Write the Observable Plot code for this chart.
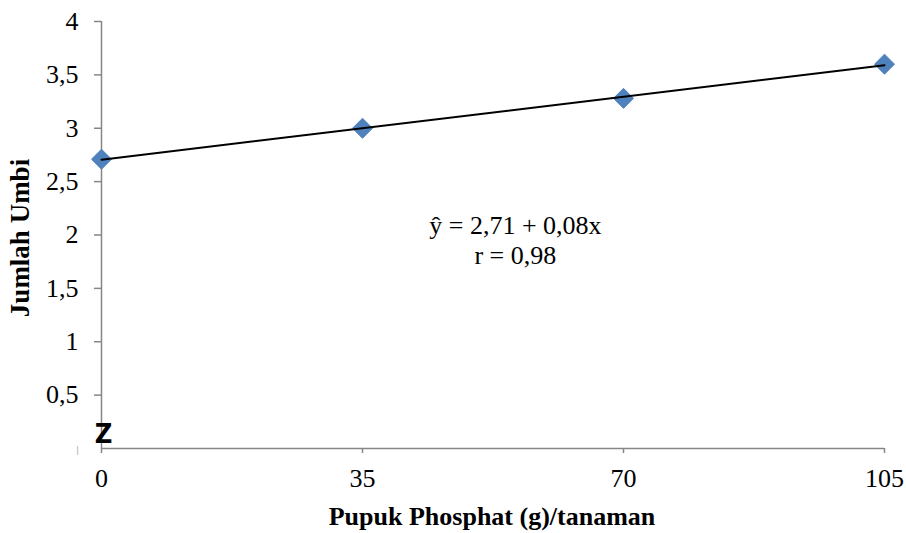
<!DOCTYPE html>
<html>
<head>
<meta charset="utf-8">
<script src="https://cdn.jsdelivr.net/npm/d3@7"></script>
<script src="https://cdn.jsdelivr.net/npm/@observablehq/plot@0.6"></script>
<style>
  html, body { margin: 0; padding: 0; background: #fff; }
  #chart { width: 906px; height: 533px; }
</style>
</head>
<body>
<div id="chart"></div>
<script>
// Data
const doses = [0, 35, 70, 105];           // Pupuk Phosphat (g)/tanaman
const umbi = [2.71, 3.00, 3.28, 3.60];     // Jumlah Umbi
const yTicks = [0.5, 1, 1.5, 2, 2.5, 3, 3.5, 4];
const xTicks = [0, 35, 70, 105];
const equationLines = ["ŷ = 2,71 + 0,08x", "r = 0,98"];
const equationPos = [{x: 55.5, y: 1.96}];
const breakMark = [{x: 0, y: 0, label: "Z"}];

const data = doses.map((d, i) => ({x: d, y: umbi[i]}));
const fmt = d => String(d).replace(".", ",");
const axisColor = "#868686";
const serif = "Liberation Serif";

const chart = Plot.plot({
  width: 906,
  height: 533,
  marginLeft: 101,
  marginRight: 22,
  marginTop: 21,
  marginBottom: 85,
  style: {fontFamily: serif, background: "#fff", overflow: "visible"},
  x: {domain: [0, 105]},
  y: {domain: [0, 4]},
  marks: [
    Plot.ruleX([0], {stroke: axisColor, strokeWidth: 1.5}),
    Plot.ruleY([0], {stroke: axisColor, strokeWidth: 1.5}),
    Plot.axisY({
      ticks: yTicks, tickFormat: fmt, tickSize: 7, tickPadding: 16,
      stroke: axisColor, strokeWidth: 1.5, fill: "#000", fontSize: 26,
      fontFamily: serif, label: null
    }),
    Plot.axisX({
      ticks: xTicks, tickFormat: fmt, tickSize: 5, tickPadding: 15,
      stroke: axisColor, strokeWidth: 1.5, fill: "#000", fontSize: 26,
      fontFamily: serif, label: null
    }),
    Plot.text(["Jumlah Umbi"], {
      frameAnchor: "left", textAnchor: "middle", rotate: -90, dx: -81, dy: 3,
      fontWeight: "bold", fontSize: 27, fill: "#000", fontFamily: serif
    }),
    Plot.text(["Pupuk Phosphat (g)/tanaman"], {
      frameAnchor: "bottom", dy: 76, dx: -1,
      fontWeight: "bold", fontSize: 26, fill: "#000", fontFamily: serif
    }),
    Plot.text(breakMark, {
      x: "x", y: "y", text: "label", dy: -14, dx: 2,
      fontFamily: "DejaVu Sans Condensed, DejaVu Sans, sans-serif",
      fontWeight: "bold", fontSize: 27, fill: "#000"
    }),
    Plot.text(breakMark, {
      x: "x", y: "y", text: () => "|", dx: -24, dy: 2,
      fontFamily: "DejaVu Sans", fontSize: 9, fill: "#aaa"
    }),
    Plot.dot(data, {
      x: "x", y: "y", symbol: "diamond2", r: 9,
      fill: "#4F81BD", stroke: "#4F81BD", strokeWidth: 1
    }),
    Plot.linearRegressionY(data, {
      x: "x", y: "y", stroke: "#000", strokeWidth: 2, ci: 0
    }),
    Plot.text(equationPos, {
      x: "x", y: "y", text: () => equationLines.join("\n"),
      lineHeight: 1.15, fontSize: 26, fill: "#000", fontFamily: serif
    })
  ]
});
document.getElementById("chart").appendChild(chart);
</script>
</body>
</html>
